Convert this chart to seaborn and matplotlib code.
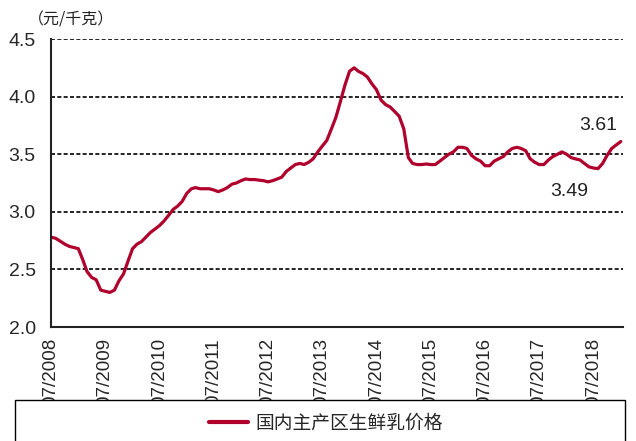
import numpy as np
import pandas as pd
import matplotlib
matplotlib.use("Agg")
import matplotlib.pyplot as plt
import matplotlib.dates as mdates
from matplotlib.patches import Rectangle
import seaborn as sns

# monthly milk price, 07/2008 .. 01/2019
price = [2.78, 2.77, 2.745, 2.72, 2.70, 2.69, 2.68, 2.58, 2.48, 2.43,
         2.41, 2.32, 2.31, 2.30, 2.32, 2.40, 2.46, 2.57, 2.68, 2.72,
         2.74, 2.78, 2.82, 2.85, 2.88, 2.92, 2.97, 3.02, 3.05, 3.09,
         3.16, 3.20, 3.21, 3.20, 3.20, 3.20, 3.19, 3.175, 3.19, 3.21,
         3.24, 3.25, 3.27, 3.285, 3.28, 3.28, 3.275, 3.27, 3.26, 3.27,
         3.285, 3.30, 3.35, 3.38, 3.41, 3.42, 3.41, 3.43, 3.46, 3.52,
         3.57, 3.62, 3.72, 3.82, 3.96, 4.10, 4.22, 4.25, 4.22, 4.20,
         4.17, 4.11, 4.06, 3.97, 3.93, 3.91, 3.87, 3.83, 3.72, 3.47,
         3.42, 3.41, 3.41, 3.415, 3.41, 3.41, 3.44, 3.47, 3.50, 3.52,
         3.56, 3.56, 3.55, 3.49, 3.46, 3.44, 3.40, 3.40, 3.44, 3.46,
         3.48, 3.52, 3.55, 3.56, 3.55, 3.53, 3.46, 3.43, 3.41, 3.41,
         3.45, 3.48, 3.50, 3.52, 3.50, 3.47, 3.46, 3.45, 3.42, 3.39,
         3.38, 3.375, 3.42, 3.49, 3.55, 3.58, 3.61]
dates = pd.date_range("2008-07-01", periods=len(price), freq="MS")
yticks = [2.0, 2.5, 3.0, 3.5, 4.0, 4.5]
series_name = "国内主产区生鲜乳价格"
unit = "（元/千克）"
notes = ["3.61", "3.49"]

df = pd.DataFrame({"date": dates, "price": price})

sns.set_style("white")
plt.rcParams["font.family"] = ["Liberation Sans", "Noto Sans CJK SC", "DejaVu Sans"]
narrow = ["Liberation Sans Narrow", "Liberation Sans"]
red = "#B0002C"

fig = plt.figure(figsize=(6.36, 4.41), dpi=100)
ax = fig.add_axes([51/636, 1-327/441, 572/636, 288/441])

sns.lineplot(data=df, x="date", y="price", ax=ax, color=red, lw=2.3, label=series_name, legend=False)

ax.set_ylim(2.0, 4.5)
ax.set_yticks(yticks)
ax.set_yticklabels([f"{v:.1f}" for v in yticks], fontsize=14, family=narrow)
for v in yticks[1:]:
    ax.axhline(v, color="black", lw=1.2, ls=(0, (2.4, 1.4)), zorder=1)

ax.set_xlim(dates[0], dates[-1] + pd.Timedelta(days=15))
ax.xaxis.set_major_locator(mdates.MonthLocator(bymonth=7))
ax.xaxis.set_major_formatter(mdates.DateFormatter("%m/%Y"))
plt.setp(ax.get_xticklabels(), rotation=90, fontsize=13.5, va="top", ha="center")

ax.set_xlabel("")
ax.set_ylabel("")
for s in ["top", "right"]:
    ax.spines[s].set_visible(False)
for s in ["left", "bottom"]:
    ax.spines[s].set_color("#222222")
    ax.spines[s].set_linewidth(1.5)
ax.tick_params(axis="both", direction="out", length=5, width=1.2, color="#222222", pad=3)
ax.tick_params(axis="y", pad=6)

ax.text(0.956, 0.698, notes[0], transform=ax.transAxes, fontsize=14, family=narrow,
        ha="center", va="center", color="#222222")
ax.text(0.906, 0.472, notes[1], transform=ax.transAxes, fontsize=14, family=narrow,
        ha="center", va="center", color="#222222")

fig.text(28/636, 1-20/441, unit, fontsize=11.5, family=["Noto Sans CJK SC", "DejaVu Sans"],
         ha="left", va="center", color="#222222")

# legend box over the bottom of the tick labels
box = Rectangle((15/636, -0.05), 610/636, (441-400)/441 + 0.05, transform=fig.transFigure,
                facecolor="white", edgecolor="black", lw=1.0, zorder=5)
fig.add_artist(box)
h, l = ax.get_legend_handles_labels()
leg = fig.legend(h, l, loc="center", bbox_to_anchor=(326/636, 1-423/441), frameon=False,
                 handlelength=2.1, handletextpad=0.4,
                 prop={"family": ["Noto Sans CJK SC"], "size": 13.5})
leg.set_zorder(6)
for line in leg.get_lines():
    line.set_linewidth(3)

fig.savefig("out.png", dpi=100)
